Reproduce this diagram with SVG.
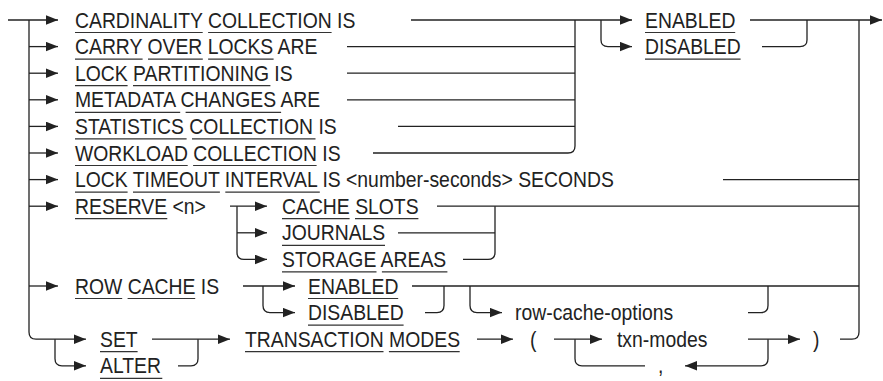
<svg xmlns="http://www.w3.org/2000/svg" width="883" height="381" viewBox="0 0 883 381">
<style>
.t{font-family:"Liberation Sans",Arial,sans-serif;font-size:22px;fill:#222}
.c{fill:none;stroke:#222;stroke-width:1.3}
.a{marker-end:url(#ah)}
.u{stroke:#333;stroke-width:1.2}
</style>
<defs>
<marker id="ah" markerUnits="userSpaceOnUse" markerWidth="13" markerHeight="10" refX="12" refY="4.75" orient="auto">
<path d="M0,0 L12,4.75 L0,9.5 z" fill="#222"/>
</marker>
</defs>
<rect width="883" height="381" fill="#fff"/>
<g id="connectors">
<path class="c a" d="M8,20 H58"/>
<path class="c a" d="M29,20 V332 Q29,339.2 36,339.2 H86"/>
<path class="c a" d="M29,46.6 H58"/>
<path class="c a" d="M29,73.2 H58"/>
<path class="c a" d="M29,99.8 H58"/>
<path class="c a" d="M29,126.4 H58"/>
<path class="c a" d="M29,153 H58"/>
<path class="c a" d="M29,179.6 H58"/>
<path class="c a" d="M29,206.2 H58"/>
<path class="c a" d="M29,286 H58"/>
<path class="c a" d="M411,20 H632"/>
<path class="c" d="M373,153 H568 Q575,153 575,146 V20"/>
<path class="c" d="M347,46.6 H575"/>
<path class="c" d="M347,73.2 H575"/>
<path class="c" d="M347,99.8 H575"/>
<path class="c" d="M398,126.4 H575"/>
<path class="c a" d="M601,20 V40 Q601,46.6 608,46.6 H632"/>
<path class="c a" d="M750,20 H882"/>
<path class="c" d="M762,46.6 H800 Q807,46.6 807,40 V20"/>
<path class="c" d="M859,20 V332 Q859,339.2 852,339.2 H840"/>
<path class="c" d="M723,179.6 H859"/>
<path class="c" d="M437,206.2 H859"/>
<path class="c" d="M412,286 H859"/>
<path class="c a" d="M230,206.2 H267"/>
<path class="c a" d="M237,206.2 V252.4 Q237,259.4 244,259.4 H267"/>
<path class="c a" d="M237,232.8 H267"/>
<path class="c" d="M398,232.8 H495"/>
<path class="c" d="M463,259.4 H488 Q495,259.4 495,252.4 V206.2"/>
<path class="c a" d="M243,286 H295"/>
<path class="c a" d="M263,286 V305.6 Q263,312.6 270,312.6 H295"/>
<path class="c" d="M425,312.6 H437 Q444,312.6 444,305.6 V286"/>
<path class="c a" d="M470,286 V305.6 Q470,312.6 477,312.6 H502"/>
<path class="c" d="M748,312.6 H761 Q768,312.6 768,305.6 V286"/>
<path class="c a" d="M55,339.2 V358.8 Q55,365.8 62,365.8 H86"/>
<path class="c a" d="M152,339.2 H230"/>
<path class="c" d="M178,365.8 H191 Q198,365.8 198,358.8 V339.2"/>
<path class="c a" d="M477,339.2 H513"/>
<path class="c a" d="M554,339.2 H602"/>
<path class="c" d="M575,339.2 V358.8 Q575,365.8 582,365.8 H645"/>
<path class="c a" d="M768,339.2 V358.8 Q768,365.8 761,365.8 H685"/>
<path class="c a" d="M748,339.2 H800"/>
</g>
<g id="underlines" class="u">
<path d="M75,32.5H202.7M208.1,32.5H331.6M645,32.5H735.2"/>
<path d="M75,59.1H142.6M148,59.1H202.8M208.1,59.1H273.6M645,59.1H740.6"/>
<path d="M75,85.7H127.6M133,85.7H270.4"/>
<path d="M75,112.3H180.2M185.6,112.3H281.1"/>
<path d="M75,138.9H186.6M192,138.9H315.5"/>
<path d="M75,165.5H187.7M193.1,165.5H316.6"/>
<path d="M75,192.1H127.6M133,192.1H219.9M225.3,192.1H319.8"/>
<path d="M75,218.7H167.3M282,218.7H349.6M355,218.7H418.4"/>
<path d="M282,245.3H385"/>
<path d="M282,271.9H376.5M381.9,271.9H447.4"/>
<path d="M75,298.5H122.2M127.6,298.5H195.2M308,298.5H398.2"/>
<path d="M308,325.1H403.6"/>
<path d="M100,351.7H137.6M245,351.7H383.5M388.9,351.7H459.7"/>
<path d="M100,378.3H162.3"/>
</g>
<g transform="scale(0.88,1)">
<g id="n-cardinality"><text class="t" x="85.23" y="27.7">CARDINALITY COLLECTION IS</text></g>
<g id="n-carry"><text class="t" x="85.23" y="54.3">CARRY OVER LOCKS ARE</text></g>
<g id="n-lockpart"><text class="t" x="85.23" y="80.9">LOCK PARTITIONING IS</text></g>
<g id="n-metadata"><text class="t" x="85.23" y="107.5">METADATA CHANGES ARE</text></g>
<g id="n-statistics"><text class="t" x="85.23" y="134.1">STATISTICS COLLECTION IS</text></g>
<g id="n-workload"><text class="t" x="85.23" y="160.7">WORKLOAD COLLECTION IS</text></g>
<g id="n-locktimeout"><text class="t" x="85.23" y="187.3">LOCK TIMEOUT INTERVAL IS &lt;number-seconds&gt; SECONDS</text></g>
<g id="n-reserve"><text class="t" x="85.23" y="213.9">RESERVE &lt;n&gt;</text></g>
<g id="n-rowcache"><text class="t" x="85.23" y="293.7">ROW CACHE IS</text></g>
<g id="n-enabled"><text class="t" x="732.95" y="27.7">ENABLED</text></g>
<g id="n-disabled"><text class="t" x="732.95" y="54.3">DISABLED</text></g>
<g id="n-cacheslots"><text class="t" x="320.45" y="213.9">CACHE SLOTS</text></g>
<g id="n-journals"><text class="t" x="320.45" y="240.5">JOURNALS</text></g>
<g id="n-storage"><text class="t" x="320.45" y="267.1">STORAGE AREAS</text></g>
<g id="n-rc-enabled"><text class="t" x="350.00" y="293.7">ENABLED</text></g>
<g id="n-rc-disabled"><text class="t" x="350.00" y="320.3">DISABLED</text></g>
<g id="n-rcoptions"><text class="t" x="585.23" y="320.3">row-cache-options</text></g>
<g id="n-set"><text class="t" x="113.64" y="346.9">SET</text></g>
<g id="n-alter"><text class="t" x="113.64" y="373.5">ALTER</text></g>
<g id="n-txnmodes-kw"><text class="t" x="278.41" y="346.9">TRANSACTION MODES</text></g>
<g id="n-lparen"><text class="t" x="602.27" y="346.9">(</text></g>
<g id="n-txnmodes"><text class="t" x="701.14" y="346.9">txn-modes</text></g>
<g id="n-rparen"><text class="t" x="923.86" y="346.9">)</text></g>
<g id="n-comma"><text class="t" x="747.73" y="373.5">,</text></g>
</g>
</svg>
